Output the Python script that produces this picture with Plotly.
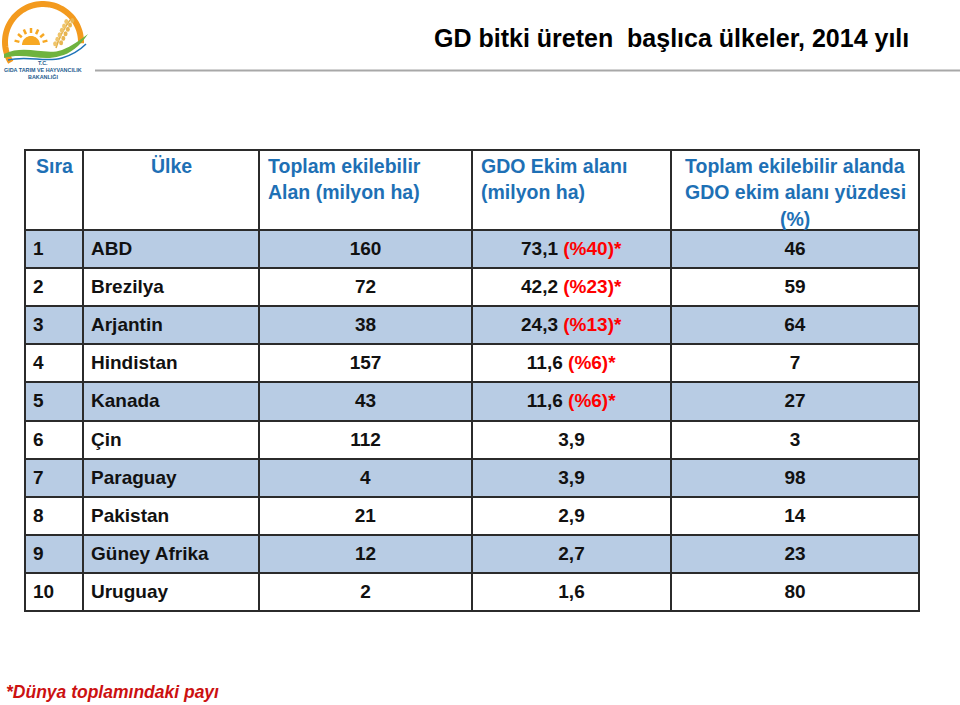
import numpy as np
import plotly.graph_objects as go

# ---- data ----
sira = ["1", "2", "3", "4", "5", "6", "7", "8", "9", "10"]
ulke = ["ABD", "Brezilya", "Arjantin", "Hindistan", "Kanada", "Çin", "Paraguay", "Pakistan", "Güney Afrika", "Uruguay"]
toplam_alan = ["160", "72", "38", "157", "43", "112", "4", "21", "12", "2"]
gdo_alan = ["73,1", "42,2", "24,3", "11,6", "11,6", "3,9", "3,9", "2,9", "2,7", "1,6"]
gdo_pay = ["(%40)*", "(%23)*", "(%13)*", "(%6)*", "(%6)*", "", "", "", "", ""]
yuzde = ["46", "59", "64", "7", "27", "3", "98", "14", "23", "80"]
headers = [["Sıra"], ["Ülke"], ["Toplam ekilebilir", "Alan (milyon ha)"],
           ["GDO Ekim alanı", "(milyon ha)"],
           ["Toplam ekilebilir alanda", "GDO ekim alanı yüzdesi", "(%)"]]
header_align = ["center", "center", "left", "left", "center"]
title = "GD bitki üreten \u00a0başlıca ülkeler, 2014 yılı"
footnote = "*Dünya toplamındaki payı"

W, H = 960, 705
FONT = "Liberation Sans"
HEAD_BLUE = "#1e70b5"
ROW_BLUE = "#b8cce4"
LINE = "#2b2b2b"
TX0, TX1 = 25, 919
TOP, HEAD_H, ROW_H = 150, 80, 38.1
colw = [58, 176, 213, 199, 248]

def b(s):
    return "<b>" + s + "</b>"

gdo_cells = [b(v) + (" <span style='color:#ff0000'>" + b(p) + "</span>" if p else "") + "<br>"
             for v, p in zip(gdo_alan, gdo_pay)]
fills = [ROW_BLUE if i % 2 == 0 else "white" for i in range(len(sira))]

table = go.Table(
    domain=dict(x=[TX0 / W, TX1 / W], y=[0.05, 1 - TOP / H]),
    columnwidth=colw,
    header=dict(
        values=[""] * 5,
        fill_color="white",
        line=dict(color=LINE, width=2),
        font=dict(family=FONT, size=19, color=HEAD_BLUE),
        height=HEAD_H,
    ),
    cells=dict(
        values=[[b(s) for s in sira], [b(u) + "<br>" for u in ulke], [b(t) for t in toplam_alan],
                gdo_cells, [b(y) for y in yuzde]],
        align=["left", "left", "center", "center", "center"],
        fill_color=[fills] * 5,
        line=dict(color=LINE, width=2),
        font=dict(family=FONT, size=19, color="#111111"),
        height=ROW_H,
    ),
)

fig = go.Figure(table)

# hidden pixel axes for decorations
fig.update_layout(
    width=W, height=H, margin=dict(l=0, r=0, t=0, b=0),
    paper_bgcolor="white", plot_bgcolor="rgba(0,0,0,0)", showlegend=False,
    xaxis=dict(range=[0, W], visible=False, fixedrange=True, domain=[0, 1]),
    yaxis=dict(range=[H, 0], visible=False, fixedrange=True, domain=[0, 1]),
)
fig.add_trace(go.Scatter(x=[0], y=[0], mode="markers", marker=dict(opacity=0), hoverinfo="skip"))

shapes = []
# title underline
shapes.append(dict(type="line", xref="x", yref="y", x0=95, x1=960, y0=70.5, y1=70.5,
                   line=dict(color="#a8a8a8", width=2)))

# logo: orange arc
ang = np.linspace(np.radians(212), np.radians(-2), 60)
cx, cy, r = 43, 42, 38
pts = " L".join(f"{cx + r*np.cos(a):.2f},{cy - r*np.sin(a):.2f}" for a in ang)
shapes.append(dict(type="path", xref="x", yref="y", path="M" + pts,
                   line=dict(color="#f39a1e", width=6)))
# sun
sa = np.linspace(0, np.pi, 30)
sun = " L".join(f"{31 + 9*np.cos(a):.2f},{45 - 9*np.sin(a):.2f}" for a in sa)
shapes.append(dict(type="path", xref="x", yref="y", path="M" + sun + " Z",
                   fillcolor="#f7a823", line=dict(width=0)))
for a in np.radians([15, 40, 65, 90, 115, 140, 165]):
    shapes.append(dict(type="line", xref="x", yref="y",
                       x0=31 + 12*np.cos(a), y0=45 - 12*np.sin(a),
                       x1=31 + 17*np.cos(a), y1=45 - 17*np.sin(a),
                       line=dict(color="#f7a823", width=2.5)))
# wheat
shapes.append(dict(type="path", xref="x", yref="y", path="M56,48 Q60,34 70,20",
                   line=dict(color="#e2b04a", width=1.5)))
for t in np.linspace(0.15, 0.95, 6):
    px = 56 + (70 - 56) * t
    py = 48 + (20 - 48) * t
    shapes.append(dict(type="circle", xref="x", yref="y", x0=px - 5, x1=px - 1, y0=py - 2.5, y1=py + 2.5,
                       fillcolor="#efc46a", line=dict(width=0)))
    shapes.append(dict(type="circle", xref="x", yref="y", x0=px + 1, x1=px + 5, y0=py - 3.5, y1=py + 1.5,
                       fillcolor="#e8b552", line=dict(width=0)))
# green swoosh and blue wave
shapes.append(dict(type="path", xref="x", yref="y",
                   path="M4,54 C25,44 45,56 62,50 C72,46 80,40 88,34 C80,46 70,54 60,56 C42,62 25,52 4,58 Z",
                   fillcolor="#6fb33f", line=dict(width=0)))
shapes.append(dict(type="path", xref="x", yref="y",
                   path="M8,60 C28,55 45,63 62,58 C72,55 80,50 86,44",
                   line=dict(color="#1f74b9", width=1.5)))
fig.update_layout(shapes=shapes)

ann = []
# header labels (per line for exact spacing)
edges = np.concatenate([[TX0], TX0 + np.cumsum(colw)])
for i, lines in enumerate(headers):
    x_left, x_right = edges[i], edges[i + 1]
    if header_align[i] == "left":
        xx, xa = x_left + 7, "left"
    else:
        xx, xa = (x_left + x_right) / 2, "center"
    for j, line in enumerate(lines):
        ann.append(dict(x=xx, y=TOP + 16 + 26.3 * j, xref="x", yref="y", text=b(line), showarrow=False,
                        xanchor=xa, yanchor="middle",
                        font=dict(family=FONT, size=19.5, color=HEAD_BLUE)))

ann.append(dict(x=432, y=38, xref="x", yref="y", text=b(title), showarrow=False,
                xanchor="left", yanchor="middle",
                font=dict(family="Liberation Sans", size=25, color="black")))
ann.append(dict(x=4, y=692, xref="x", yref="y", text="<b><i>" + footnote + "</i></b>", showarrow=False,
                xanchor="left", yanchor="middle",
                font=dict(family=FONT, size=17.5, color="#cc1111")))
for txt, yy, sz in [("T.C.", 63, 5.4), ("GIDA TARIM VE HAYVANCILIK", 70, 5.4), ("BAKANLIĞI", 76, 5.4)]:
    ann.append(dict(x=43, y=yy, xref="x", yref="y", text=b(txt), showarrow=False,
                    xanchor="center", yanchor="middle",
                    font=dict(family="Liberation Sans", size=sz, color="#1d5c8f")))
fig.update_layout(annotations=ann)

fig.write_html("out.html", config={"displayModeBar": False},
               post_script="document.body.style.margin='0';")
